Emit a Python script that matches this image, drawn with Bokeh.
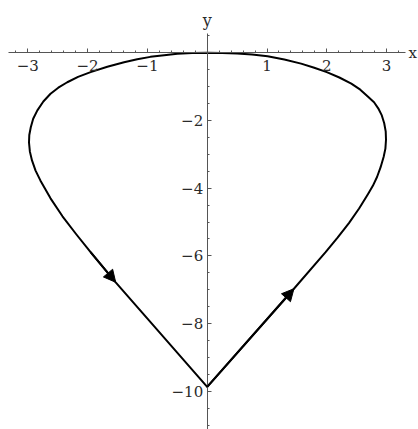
from bokeh.plotting import figure
from bokeh.models import Range1d, SingleIntervalTicker, Arrow, NormalHead, Label
from bokeh.embed import file_html
from bokeh.resources import INLINE

# Closed parametric loop, traced from the cusp at the bottom, up the right
# side, across the top and back down the left side.
curve_x = [0.00, 1.45, 1.98, 2.18, 2.37, 2.54, 2.69, 2.77, 2.84,
           2.90, 2.95, 2.98, 2.99, 2.985, 2.96, 2.92, 2.86, 2.79, 2.69, 2.56,
           2.41, 2.21, 2.00, 1.79, 1.57, 1.29, 1.01, 0.75, 0.50, 0.25, 0.00,
           -0.25, -0.50, -0.72, -0.95, -1.17, -1.39, -1.67, -1.95, -2.16,
           -2.34, -2.49, -2.62, -2.74, -2.84, -2.91, -2.95, -2.975, -2.98,
           -2.965, -2.93, -2.87, -2.79, -2.62, -2.42, -2.19,
           -1.95, -1.53, 0.00]
curve_y = [-9.87, -6.97, -5.89, -5.46, -5.03, -4.60, -4.17,
           -3.93, -3.67, -3.38, -3.08, -2.83, -2.57, -2.32, -2.08, -1.85,
           -1.64, -1.46, -1.30, -1.09, -0.91, -0.73, -0.57, -0.44, -0.32,
           -0.20, -0.10, -0.05, -0.02, -0.005, 0.00,
           -0.005, -0.03, -0.07, -0.12, -0.19, -0.28, -0.41, -0.57, -0.71,
           -0.87, -1.03, -1.21, -1.44, -1.70, -1.95, -2.20, -2.43, -2.65,
           -2.92, -3.18, -3.48, -3.77, -4.30, -4.83, -5.36,
           -5.89, -6.78, -9.87]

# Points of the curve where a direction arrowhead sits
arrow_at = [1, len(curve_x) - 2]

# Tick labels (origin left unlabelled)
x_tick_labels = {-3: "\u22123", -2: "\u22122", -1: "\u22121", 0: "",
                 1: "1", 2: "2", 3: "3"}
y_tick_labels = {-10: "\u221210", -8: "\u22128", -6: "\u22126",
                 -4: "\u22124", -2: "\u22122", 0: ""}

# Screen calibration: origin position and scale in pixels
W, H = 418, 429
X0_PX, PX_PER_X = 206.7, 59.8
Y0_PX, PX_PER_Y = 52.3, 33.85

p = figure(width=W, height=H, output_backend="svg", toolbar_location=None,
           min_border=0, outline_line_color=None,
           x_range=Range1d(-X0_PX / PX_PER_X, (W - X0_PX) / PX_PER_X),
           y_range=Range1d(-(H - Y0_PX) / PX_PER_Y, Y0_PX / PX_PER_Y))
p.grid.visible = False
p.background_fill_color = "white"

FONT = "DejaVu Serif"
AXIS_COLOR = "#555555"
LABEL_COLOR = "#2a2a2a"

# Axes crossing at the origin
xa = p.xaxis[0]
xa.fixed_location = 0
xa.bounds = ((8 - X0_PX) / PX_PER_X, (405 - X0_PX) / PX_PER_X)
xa.ticker = SingleIntervalTicker(interval=1, num_minor_ticks=5)
xa.major_label_overrides = x_tick_labels

ya = p.yaxis[0]
ya.fixed_location = 0
ya.bounds = (-(H - Y0_PX) / PX_PER_Y, (Y0_PX - 33) / PX_PER_Y)
ya.ticker = SingleIntervalTicker(interval=2, num_minor_ticks=4)
ya.major_label_overrides = y_tick_labels

for ax in (xa, ya):
    ax.axis_line_color = AXIS_COLOR
    ax.axis_line_width = 1
    ax.major_tick_line_color = AXIS_COLOR
    ax.minor_tick_line_color = AXIS_COLOR
    ax.major_tick_in = 4
    ax.major_tick_out = 0
    ax.minor_tick_in = 2
    ax.minor_tick_out = 0
    ax.major_label_text_font = FONT
    ax.major_label_text_font_size = "15px"
    ax.major_label_text_color = LABEL_COLOR
xa.major_label_standoff = 7
ya.major_label_standoff = 4

# The curve
p.line(curve_x, curve_y, line_color="black", line_width=2,
       line_join="round", line_cap="round")

# Direction arrowheads along the curve
for i in arrow_at:
    p.add_layout(Arrow(end=NormalHead(size=12, fill_color="black",
                                      line_color="black", line_width=1),
                       x_start=curve_x[i - 1], y_start=curve_y[i - 1],
                       x_end=curve_x[i], y_end=curve_y[i],
                       line_color="black", line_width=2))

# Axis names at the ends of the axes
p.add_layout(Label(x=0, y=ya.bounds[1], text="y", y_offset=13,
                   text_align="center", text_baseline="alphabetic",
                   text_font=FONT, text_font_size="16px",
                   text_color=LABEL_COLOR))
p.add_layout(Label(x=xa.bounds[1], y=0, text="x", x_offset=3,
                   text_align="left", text_baseline="middle",
                   text_font=FONT, text_font_size="15px",
                   text_color=LABEL_COLOR))

open("out.html", "w").write(file_html(p, INLINE))
